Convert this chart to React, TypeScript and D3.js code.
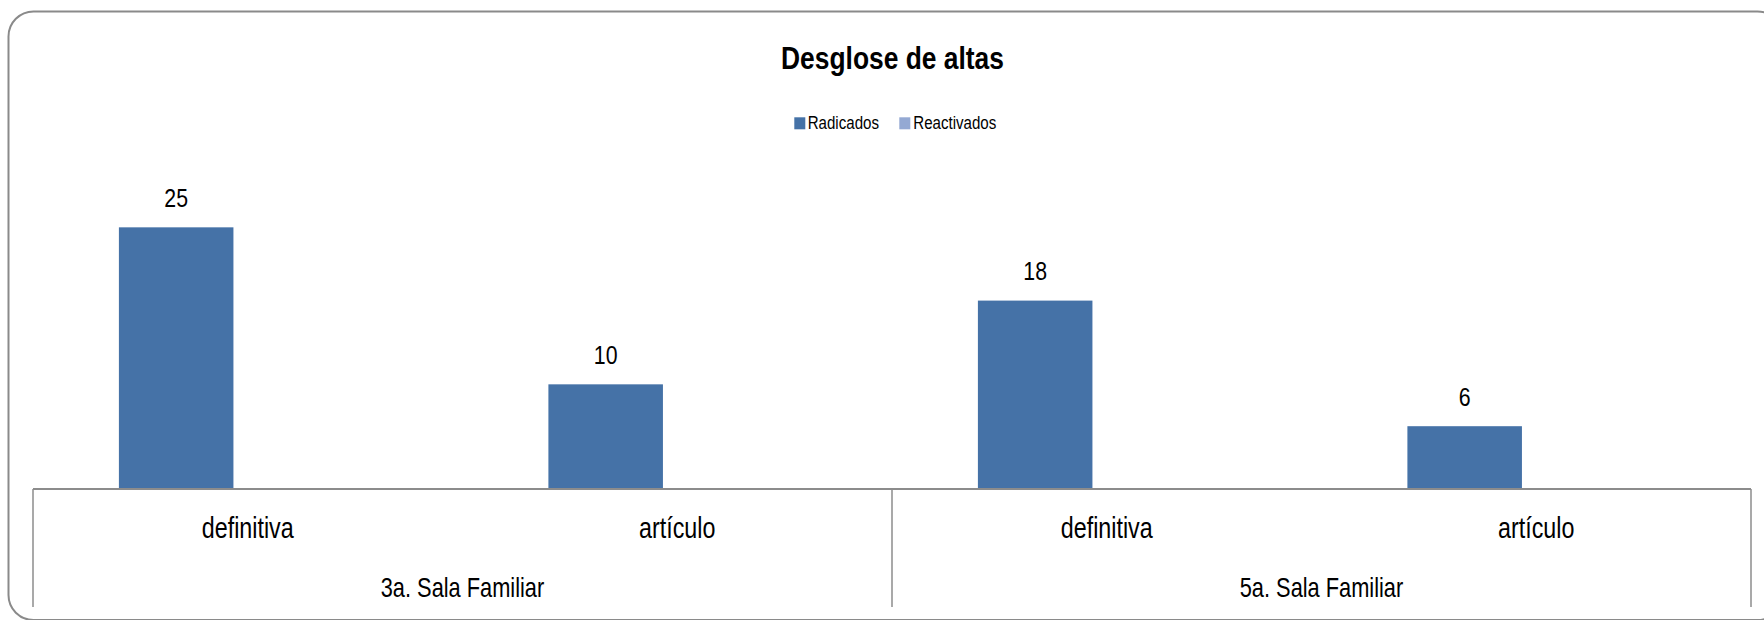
import React from "react";
import * as d3 from "d3";

const title = "Desglose de altas";
const seriesNames = ["Radicados", "Reactivados"];
const seriesColors = ["#4572A7", "#94A9D3"];
const groups = ["3a. Sala Familiar", "5a. Sala Familiar"];
const categories = [
  { group: "3a. Sala Familiar", label: "definitiva" },
  { group: "3a. Sala Familiar", label: "artículo" },
  { group: "5a. Sala Familiar", label: "definitiva" },
  { group: "5a. Sala Familiar", label: "artículo" },
];
const radicados = [25, 10, 18, 6];
const reactivados: (number | null)[] = [null, null, null, null];
const yDomain = [0, 30];

const W = 1764;
const H = 620;
const FONT = "'Liberation Sans', Arial, sans-serif";

function SText(props: {
  x: number;
  y: number;
  size: number;
  sy: number;
  anchor?: string;
  bold?: boolean;
  children: React.ReactNode;
}) {
  const { x, y, size, sy, anchor = "start", bold = false, children } = props;
  return (
    <text
      transform={`translate(${x},${y}) scale(1,${sy})`}
      textAnchor={anchor}
      fontSize={size}
      fontWeight={bold ? "bold" : "normal"}
      fill="#000"
    >
      {children}
    </text>
  );
}

export default function App() {
  const left = 33;
  const right = 1751;
  const axisY = 489;
  const top = 175;
  const bottomLine = 607;

  const ids = categories.map((_, i) => String(i));
  const x = d3.scaleBand<string>().domain(ids).range([left, right]).padding(0);
  const y = d3.scaleLinear().domain(yDomain).range([axisY, top]);
  const gx = d3.scaleBand<string>().domain(groups).range([left, right]).padding(0);

  const bw = x.bandwidth() / 3.75;
  const seriesData = [radicados, reactivados];

  const legendItems = [
    { sq: 794.3, tx: 807.7 },
    { sq: 899.3, tx: 913.3 },
  ];

  return (
    <svg
      width={W}
      height={H}
      style={{ position: "absolute", left: 0, top: 0, display: "block" }}
      fontFamily={FONT}
    >
      <rect x={0} y={0} width={W} height={H} fill="#fff" />
      <rect
        x={8.5}
        y={11.5}
        width={1774}
        height={608.5}
        rx={25}
        ry={25}
        fill="#fff"
        stroke="#8a8a8a"
        strokeWidth={2}
      />
      <SText x={892.5} y={69} size={26.4} sy={1.18} anchor="middle" bold>
        {title}
      </SText>
      {seriesNames.map((n, i) => (
        <g key={n}>
          <rect x={legendItems[i].sq} y={117.3} width={11} height={12} fill={seriesColors[i]} />
          <SText x={legendItems[i].tx} y={129} size={15.1} sy={1.2}>
            {n}
          </SText>
        </g>
      ))}
      {seriesData.map((vals, s) =>
        vals.map((v, i) => {
          if (v == null) return null;
          const cx = (x(ids[i]) as number) + x.bandwidth() / 2;
          const bx = cx - 1.125 * bw + s * 1.25 * bw;
          return (
            <g key={`${s}-${i}`}>
              <rect x={bx} y={y(v)} width={bw} height={axisY - y(v)} fill={seriesColors[s]} />
              <SText x={bx + bw / 2} y={y(v) - 20.3} size={21.3} sy={1.25} anchor="middle">
                {v}
              </SText>
            </g>
          );
        })
      )}
      <line x1={left} x2={right} y1={axisY} y2={axisY} stroke="#8c8c8c" strokeWidth={2} />
      {[left, gx(groups[1]) as number, right].map((xx, i) => (
        <line key={i} x1={xx} x2={xx} y1={axisY} y2={bottomLine} stroke="#8c8c8c" strokeWidth={1.5} />
      ))}
      {categories.map((c, i) => (
        <SText
          key={i}
          x={(x(ids[i]) as number) + x.bandwidth() / 2}
          y={537.5}
          size={23.3}
          sy={1.24}
          anchor="middle"
        >
          {c.label}
        </SText>
      ))}
      {groups.map((g) => (
        <SText
          key={g}
          x={(gx(g) as number) + gx.bandwidth() / 2}
          y={596.7}
          size={21.8}
          sy={1.27}
          anchor="middle"
        >
          {g}
        </SText>
      ))}
    </svg>
  );
}
